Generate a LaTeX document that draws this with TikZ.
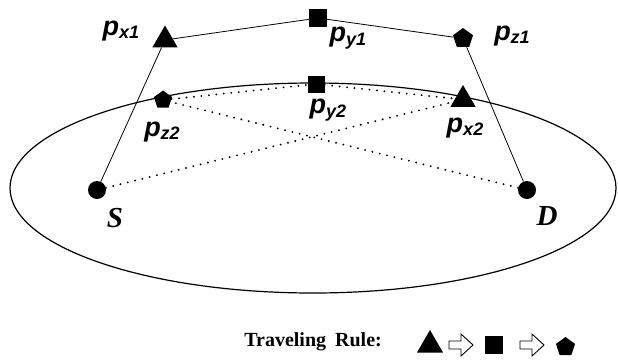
\documentclass[tikz,border=0pt]{standalone}
\usepackage{fontspec}
\setmainfont{Liberation Serif}
\newfontfamily\labfont{Liberation Sans}
\usetikzlibrary{shapes.geometric}
\newcommand{\plab}[1]{{\labfont\bfseries\itshape\fontsize{27}{27}\selectfont p\raisebox{-3.5pt}{\fontsize{18}{18}\selectfont #1}}}
\begin{document}
\begin{tikzpicture}[x=1pt,y=-1pt,
  tri/.style={regular polygon, regular polygon sides=3, fill=black, inner sep=0pt, minimum size=29pt},
  sq/.style={rectangle, fill=black, inner sep=0pt, minimum size=18pt},
  pent/.style={regular polygon, regular polygon sides=5, fill=black, inner sep=0pt, minimum size=21pt},
  endpt/.style={circle, fill=black, inner sep=0pt, minimum size=18pt},
  conn/.style={line width=0.8pt},
  dotline/.style={line width=2.1pt, dash pattern=on 0pt off 7.5pt, line cap=round},
  lbl/.style={inner sep=0pt},
  sdlbl/.style={inner sep=0pt, font=\fontsize{29}{29}\selectfont\bfseries\itshape},
  harrow/.pic={\draw[line width=0.9pt, fill=white] (-12,-4) -- (0,-4) -- (0,-11) -- (12,0) -- (0,11) -- (0,4) -- (-12,4) -- cycle;}
]
\useasboundingbox (0,0) rectangle (618,359);
\draw[line width=1.2pt] (313,188) ellipse [x radius=303pt, y radius=105pt];

\node[tri] (px1) at (165,40) {};
\node[sq] (py1) at (318,18) {};
\node[pent] (pz1) at (463,38.5) {};
\node[pent, minimum size=19pt] (pz2) at (163,100) {};
\node[sq, minimum size=17pt] (py2) at (316,84) {};
\node[tri] (px2) at (463,99.5) {};
\node[endpt] (S) at (97,190) {};
\node[endpt] (D) at (527,190) {};

\draw[conn] (S) -- (px1) -- (py1) -- (pz1) -- (D);
\draw[dotline] (S) -- (px2);
\draw[dotline] (D) -- (pz2);
\draw[dotline] (pz2) -- (py2) -- (px2);

\node[lbl] (lx1) at (121,31) {\plab{x1}};
\node[lbl] (ly1) at (348,38) {\plab{y1}};
\node[lbl] (lz1) at (512,36) {\plab{z1}};
\node[lbl] (lz2) at (162,132) {\plab{z2}};
\node[lbl] (ly2) at (328,110) {\plab{y2}};
\node[lbl] (lx2) at (465,128) {\plab{x2}};
\node[sdlbl] (lS) at (115,218) {S};
\node[sdlbl] (lD) at (547,216) {D};

\node[anchor=east, inner sep=0pt, font=\fontsize{20}{20}\selectfont\bfseries] (rule) at (382,342) {Traveling\hspace{0.45em}Rule:};
\node[tri, minimum size=30pt] (r1) at (430,345) {};
\pic at (461,345) {harrow};
\node[sq] (r2) at (493.5,345) {};
\pic at (532,345) {harrow};
\node[pent, minimum size=20pt] (r3) at (565.5,347) {};
\end{tikzpicture}
\end{document}
